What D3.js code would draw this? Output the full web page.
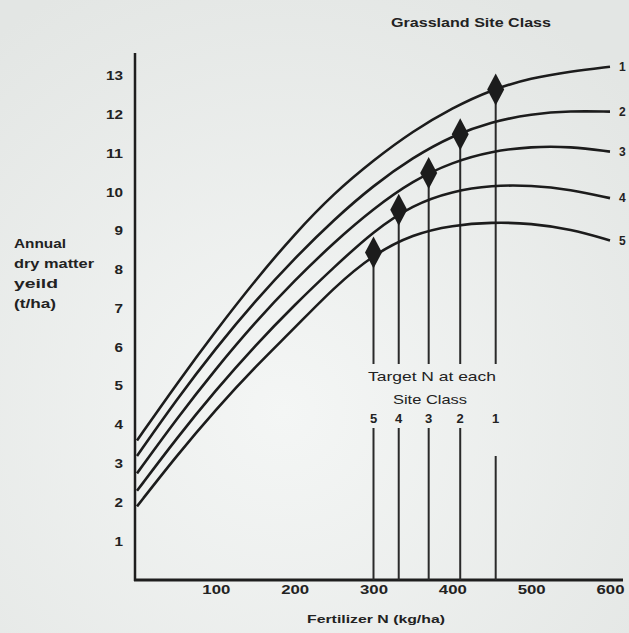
<!DOCTYPE html>
<html>
<head>
<meta charset="utf-8">
<script src="https://cdn.jsdelivr.net/npm/d3@7"></script>
<style>
  body { margin: 0; background: #eceeed; }
  svg text { font-family: "Liberation Sans", Arial, sans-serif; font-weight: bold; fill: #222; }
</style>
</head>
<body>
<div id="chart"></div>
<script>
// fertilizer N (kg/ha) sample points along the curves
var nValues = [0, 50, 100, 150, 200, 250, 300, 350, 400, 450, 500, 550, 600];
// annual dry matter yield (t/ha) for each grassland site class
var class1 = [3.6, 5.05, 6.43, 7.73, 8.93, 9.98, 10.83, 11.58, 12.18, 12.65, 12.95, 13.12, 13.24];
var class2 = [3.2, 4.65, 5.98, 7.2, 8.3, 9.3, 10.18, 10.9, 11.46, 11.82, 12.02, 12.1, 12.08];
var class3 = [2.75, 4.15, 5.45, 6.65, 7.73, 8.71, 9.58, 10.3, 10.78, 11.06, 11.18, 11.18, 11.05];
var class4 = [2.3, 3.65, 4.9, 6.05, 7.1, 8.07, 9.0, 9.68, 10.03, 10.18, 10.18, 10.07, 9.85];
var class5 = [1.9, 3.2, 4.4, 5.5, 6.5, 7.55, 8.4, 8.92, 9.15, 9.23, 9.2, 9.05, 8.76];
var siteClasses = ["1", "2", "3", "4", "5"];
// target N for each site class and its yield (the diamonds)
var targetN = [455, 410, 370, 332, 300];
var targetYield = [12.65, 11.5, 10.5, 9.55, 8.45];
var xTicks = [100, 200, 300, 400, 500, 600];
var yTicks = [1, 2, 3, 4, 5, 6, 7, 8, 9, 10, 11, 12, 13];

var width = 629, height = 633;
var seriesList = [class1, class2, class3, class4, class5];

var svg = d3.select("#chart")
    .append("svg")
    .attr("width", width)
    .attr("height", height);

// scanned paper look
var grad = svg.append("defs").append("radialGradient")
    .attr("id", "paper")
    .attr("cx", "45%").attr("cy", "65%").attr("r", "75%");
grad.append("stop").attr("offset", "0%").attr("stop-color", "#f4f6f5");
grad.append("stop").attr("offset", "100%").attr("stop-color", "#e3e6e4");
svg.append("rect")
    .attr("width", width).attr("height", height)
    .style("fill", "url(#paper)");

var x = d3.scaleLinear().domain([0, 600]).range([137, 610]);
var y = d3.scaleLinear().domain([0, 13]).range([580, 76]);

// axes lines
svg.append("line")
    .attr("x1", 135).attr("x2", 135)
    .attr("y1", 53).attr("y2", 581)
    .style("stroke", "#1e1e1e").style("stroke-width", 2.5);
svg.append("line")
    .attr("x1", 134).attr("x2", 623)
    .attr("y1", 580).attr("y2", 580)
    .style("stroke", "#1e1e1e").style("stroke-width", 3);

// tick labels
var yAxis = svg.append("g")
    .attr("transform", "translate(135,0)")
    .call(d3.axisLeft(y).tickValues(yTicks).tickSize(0).tickPadding(12).tickFormat(d3.format("d")));
yAxis.select(".domain").remove();
yAxis.selectAll("text")
    .style("font-size", "12px").style("font-family", "Liberation Sans, Arial, sans-serif")
    .style("font-weight", "bold").style("fill", "#222")
    .attr("lengthAdjust", "spacingAndGlyphs")
    .attr("textLength", function (d) { return String(d).length * 8.5; });

var xAxis = svg.append("g")
    .attr("transform", "translate(0,580)")
    .call(d3.axisBottom(x).tickValues(xTicks).tickSize(0).tickPadding(5).tickFormat(d3.format("d")));
xAxis.select(".domain").remove();
xAxis.selectAll("text")
    .style("font-size", "12px").style("font-family", "Liberation Sans, Arial, sans-serif")
    .style("font-weight", "bold").style("fill", "#222")
    .attr("lengthAdjust", "spacingAndGlyphs")
    .attr("textLength", 28);

// target N lines (broken around the caption)
svg.append("g").selectAll("line.up")
    .data(targetN)
    .enter().append("line")
    .attr("x1", function (d) { return x(d); })
    .attr("x2", function (d) { return x(d); })
    .attr("y1", function (d, i) { return y(targetYield[i]); })
    .attr("y2", 364)
    .style("stroke", "#2a2a2a").style("stroke-width", 2);
svg.append("g").selectAll("line.down")
    .data(targetN)
    .enter().append("line")
    .attr("x1", function (d) { return x(d); })
    .attr("x2", function (d) { return x(d); })
    .attr("y1", function (d, i) { return i == 0 ? 456 : 428; })
    .attr("y2", 580)
    .style("stroke", "#2a2a2a").style("stroke-width", 2);

// curves
var line = d3.line()
    .x(function (d, i) { return x(nValues[i]); })
    .y(function (d) { return y(d); })
    .curve(d3.curveBasis);

svg.append("g").selectAll("path")
    .data(seriesList)
    .enter().append("path")
    .attr("d", line)
    .style("fill", "none")
    .style("stroke", "#1c1c1c")
    .style("stroke-width", 2.6);

// diamonds
svg.append("g").selectAll("path")
    .data(targetN)
    .enter().append("path")
    .attr("d", "M0,-16L8.5,0L0,16L-8.5,0Z")
    .attr("transform", function (d, i) { return "translate(" + x(d) + "," + y(targetYield[i]) + ")"; })
    .style("fill", "#1c1c1c");

// class labels at the right end
svg.append("g").selectAll("text")
    .data(seriesList)
    .enter().append("text")
    .attr("x", 619)
    .attr("y", function (d) { return y(d[d.length - 1]); })
    .attr("dy", "0.35em")
    .style("font-size", "12px")
    .text(function (d, i) { return siteClasses[i]; });

// class labels above the lower target lines
svg.append("g").selectAll("text")
    .data(targetN)
    .enter().append("text")
    .attr("x", function (d) { return x(d); })
    .attr("y", 423)
    .attr("text-anchor", "middle")
    .style("font-size", "13px")
    .text(function (d, i) { return siteClasses[i]; });

svg.append("text").attr("x", 432).attr("y", 381)
    .attr("text-anchor", "middle").style("font-size", "13px").style("font-weight", "normal")
    .attr("lengthAdjust", "spacingAndGlyphs").attr("textLength", 128)
    .text("Target N at each");
svg.append("text").attr("x", 430).attr("y", 404)
    .attr("text-anchor", "middle").style("font-size", "13px").style("font-weight", "normal")
    .attr("lengthAdjust", "spacingAndGlyphs").attr("textLength", 74)
    .text("Site Class");

// titles
svg.append("text").attr("x", 471).attr("y", 27)
    .attr("text-anchor", "middle").style("font-size", "12px")
    .attr("lengthAdjust", "spacingAndGlyphs").attr("textLength", 160)
    .text("Grassland Site Class");

svg.append("text").attr("x", 376).attr("y", 623)
    .attr("text-anchor", "middle").style("font-size", "11px")
    .attr("lengthAdjust", "spacingAndGlyphs").attr("textLength", 138)
    .text("Fertilizer N (kg/ha)");

var yLabel = ["Annual", "dry matter", "yeild", "(t/ha)"];
var yLabelLen = [52, 80, 44, 42];
svg.append("g").selectAll("text")
    .data(yLabel)
    .enter().append("text")
    .attr("x", 14)
    .attr("y", function (d, i) { return 248 + i * 20; })
    .style("font-size", "12px")
    .attr("lengthAdjust", "spacingAndGlyphs")
    .attr("textLength", function (d, i) { return yLabelLen[i]; })
    .text(function (d) { return d; });
</script>
</body>
</html>
